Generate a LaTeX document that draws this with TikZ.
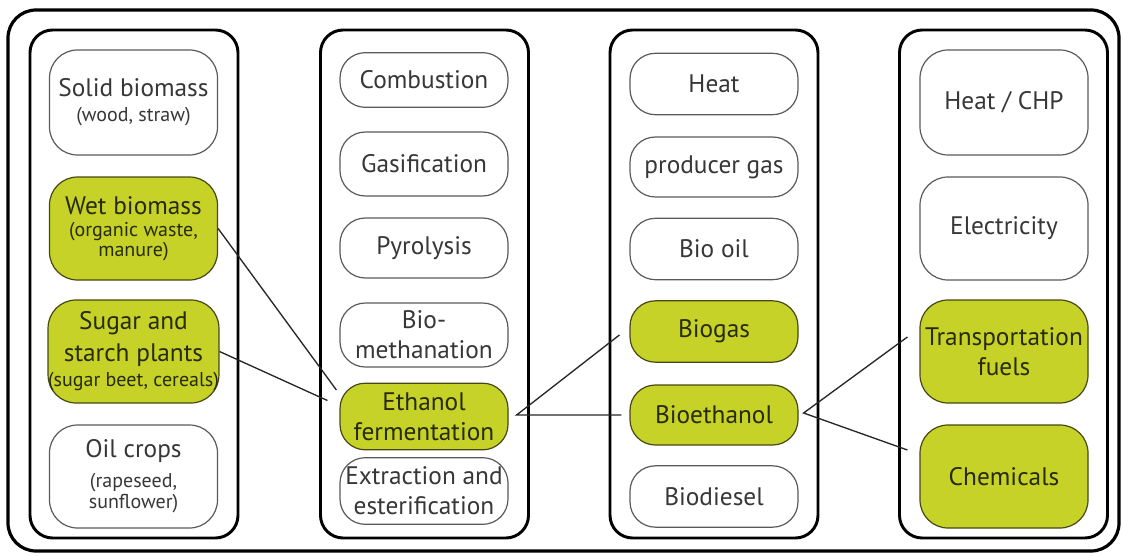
\documentclass[tikz,border=0pt]{standalone}
\usepackage{fontspec}
\setmainfont{PT Sans}
\usetikzlibrary{calc}
\definecolor{limefill}{RGB}{198,210,40}
\definecolor{limeedge}{RGB}{70,72,20}
\definecolor{limetext}{RGB}{40,42,10}
\definecolor{graytext}{RGB}{55,55,55}
\definecolor{grayedge}{RGB}{90,90,90}
\newcommand\mainsz{\fontsize{19}{22.5}\selectfont}
\newcommand\subsz{\fontsize{15}{15}\selectfont}
\begin{document}
\begin{tikzpicture}[x=0.75pt,y=-0.75pt,
  frame/.style={draw=black, line width=2.4pt, rounded corners=21pt},
  col/.style={draw=black, line width=2.2pt, rounded corners=17pt, minimum width=156pt, minimum height=381pt, inner sep=0pt},
  wbox/.style={draw=grayedge, line width=0.9pt, fill=white, text=graytext, align=center,
               minimum width=126pt, inner sep=0pt, font=\mainsz, rounded corners=19pt},
  gbox/.style={wbox, draw=limeedge, fill=limefill, text=limetext},
  bigw/.style={wbox, rounded corners=21pt},
  bigg/.style={gbox, rounded corners=21pt},
  link/.style={draw=black!85, line width=1pt}]
\useasboundingbox (0,0) rectangle (1123,556);
\draw[frame] (8,10) rectangle (1119,551);
% columns
\node[col] (col1) at (134,284) {};
\node[col] (col2) at (424.5,284) {};
\node[col] (col3) at (714,284) {};
\node[col] (col4) at (1003.5,284) {};
% column 1
\node[bigw, minimum height=78.75pt] (solid) at (133.5,102.5) {Solid biomass\\[-3.5pt]\subsz (wood, straw)};
\node[bigg, minimum height=77.25pt] (wet) at (133.5,228.5) {Wet biomass\\[-6pt]\subsz (organic waste,\\[-7.5pt]\subsz manure)};
\node[bigg, minimum height=77.25pt] (sugar) at (133.5,351.5) {Sugar and\\[1.5pt]starch plants\\[-3.5pt]\subsz (sugar beet, cereals)};
\node[bigw, minimum height=77.25pt] (oil) at (133.5,476.5) {Oil crops\\[-0.5pt]\subsz (rapeseed,\\[-6.5pt]\subsz sunflower)};
% column 2
\node[wbox, minimum height=41pt] (comb) at (424,80) {Combustion};
\node[wbox, minimum height=48pt] (gas) at (424,164) {Gasification};
\node[wbox, minimum height=45pt] (pyro) at (424,248) {Pyrolysis};
\node[wbox, minimum height=48pt] (meth) at (424,335) {Bio-\\methanation};
\node[gbox, minimum height=50pt] (eth) at (424,416.5) {Ethanol\\fermentation};
\node[wbox, minimum height=50pt] (extr) at (424,491) {Extraction and\\esterification};
% column 3
\node[wbox, minimum height=46pt] (heat) at (714,84) {Heat};
\node[wbox, minimum height=45pt] (prod) at (714,167) {producer gas};
\node[wbox, minimum height=46pt] (biooil) at (714,249) {Bio oil};
\node[gbox, minimum height=46pt] (biogas) at (714,331.5) {Biogas};
\node[gbox, minimum height=45pt] (bioeth) at (714,415) {Bioethanol};
\node[wbox, minimum height=46pt] (biodiesel) at (714,496.5) {Biodiesel};
% column 4
\node[bigw, minimum height=78.75pt] (chp) at (1004,102.5) {Heat / CHP};
\node[bigw, minimum height=77.25pt] (elec) at (1004,228.5) {Electricity};
\node[bigg, minimum height=77.25pt] (trans) at (1004,351.5) {Transportation\\fuels};
\node[bigg, minimum height=77.25pt] (chem) at (1004,476.5) {Chemicals};
% connector ends
\coordinate (ethA) at ($(eth.west)+(-3,-26.5)$);
\coordinate (ethB) at ($(eth.west)+(-12,-16)$);
\coordinate (ethE) at ($(eth.east)+(8,-1.5)$);
\coordinate (biogasW) at ($(biogas.west)+(-10,3.5)$);
\coordinate (bioethW) at ($(bioeth.west)+(-8,0)$);
\coordinate (bioethE) at ($(bioeth.east)+(5,-2)$);
\coordinate (transW) at ($(trans.west)+(-12,-14.5)$);
\coordinate (chemW) at ($(chem.west)+(-12,-26.5)$);
\draw[link] (wet.east) -- (ethA);
\draw[link] (sugar.east) -- (ethB);
\draw[link] (biogasW) -- (ethE) -- (bioethW);
\draw[link] (transW) -- (bioethE) -- (chemW);
\end{tikzpicture}
\end{document}
